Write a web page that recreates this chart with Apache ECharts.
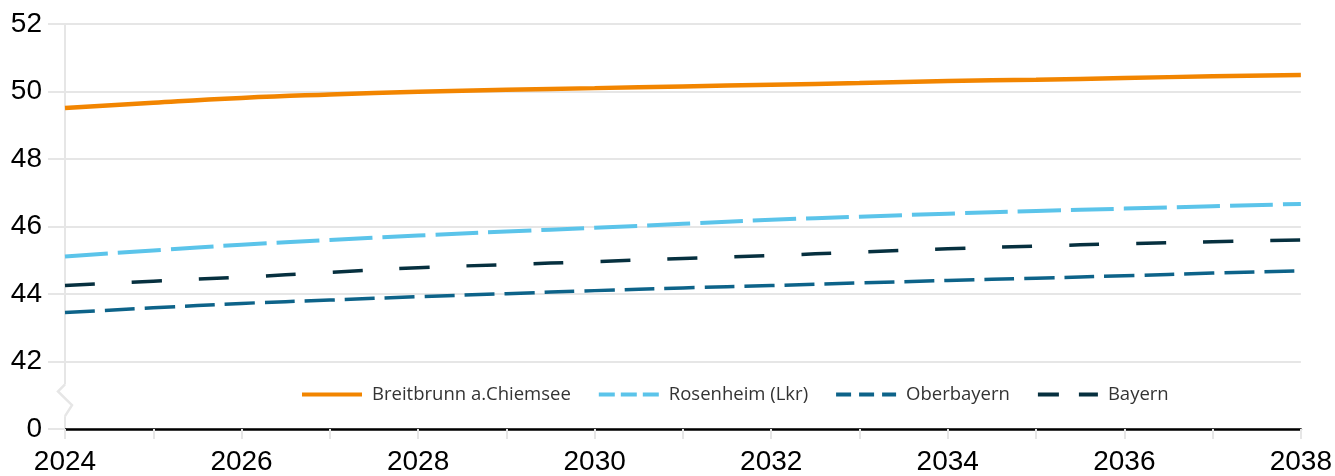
<!DOCTYPE html>
<html>
<head>
<meta charset="utf-8">
<style>
  html, body { margin: 0; padding: 0; background: #fff; }
  #chart { width: 1335px; height: 476px; }
</style>
<script src="https://cdn.jsdelivr.net/npm/echarts@6/dist/echarts.min.js"></script>
</head>
<body>
<div id="chart"></div>
<script>
const years = [2024, 2025, 2026, 2027, 2028, 2029, 2030, 2031, 2032, 2033, 2034, 2035, 2036, 2037, 2038];
const breitbrunn = [49.51, 49.67, 49.81, 49.91, 49.99, 50.05, 50.10, 50.15, 50.20, 50.25, 50.31, 50.35, 50.40, 50.45, 50.49];
const rosenheim  = [45.11, 45.29, 45.46, 45.60, 45.73, 45.85, 45.96, 46.08, 46.20, 46.29, 46.38, 46.46, 46.53, 46.60, 46.67];
const oberbayern = [43.45, 43.59, 43.72, 43.82, 43.92, 44.01, 44.10, 44.18, 44.25, 44.33, 44.40, 44.47, 44.54, 44.62, 44.69];
const bayern     = [44.25, 44.38, 44.50, 44.64, 44.78, 44.87, 44.96, 45.05, 45.14, 45.24, 45.34, 45.42, 45.49, 45.55, 45.60];
const yTicks = [0, 42, 44, 46, 48, 50, 52];   // 0 is drawn at the broken-axis position (40)
const yBreakPos = 40;

const names = ['Breitbrunn a.Chiemsee', 'Rosenheim (Lkr)', 'Oberbayern', 'Bayern'];
const colors = ['#f28500', '#5bc4ea', '#0d6389', '#06303f'];

function pair(arr) { return years.map((y, i) => [y, arr[i]]); }

const chart = echarts.init(document.getElementById('chart'), null, { renderer: 'canvas' });
const axisFont = 'Liberation Sans, Arial, sans-serif';
const hiddenSym = { opacity: 0, borderWidth: 0 };

const option = {
  animation: false,
  backgroundColor: '#ffffff',
  grid: { left: 65, right: 34, top: 24, bottom: 46, containLabel: false },
  legend: {
    left: 295, top: 380,
    itemWidth: 60, itemHeight: 20, itemGap: 26,
    itemStyle: hiddenSym,
    textStyle: { fontFamily: 'Open Sans, Liberation Sans, sans-serif', fontSize: 18.5, color: '#333', padding: [0, 0, 0, 5] },
    data: [
      { name: names[0], lineStyle: { type: 'solid', width: 4 }, itemStyle: hiddenSym },
      { name: names[1], lineStyle: { type: [16, 6], width: 4 }, itemStyle: hiddenSym },
      { name: names[2], lineStyle: { type: [15, 8], width: 4 }, itemStyle: hiddenSym },
      { name: names[3], lineStyle: { type: [21, 20], width: 4 }, itemStyle: hiddenSym }
    ]
  },
  xAxis: {
    type: 'value', min: 2024, max: 2038, interval: 1,
    axisLine: { show: true, onZero: false, lineStyle: { color: '#000', width: 2.5 } },
    axisTick: { show: true, length: 10, lineStyle: { color: '#e6e6e6', width: 2 } },
    splitLine: { show: false },
    axisLabel: {
      fontFamily: axisFont, fontSize: 28, color: '#000', margin: 19,
      formatter: v => (v % 2 === 0 ? String(v) : '')
    }
  },
  yAxis: {
    type: 'value', min: 40, max: 52, interval: 2,
    axisLine: { show: true, lineStyle: { color: '#e6e6e6', width: 2 } },
    axisTick: { show: true, length: 17, lineStyle: { color: '#e6e6e6', width: 2 } },
    splitLine: { show: true, lineStyle: { color: '#e6e6e6', width: 2 } },
    axisLabel: {
      fontFamily: axisFont, fontSize: 28, color: '#000', margin: 23,
      formatter: v => (v === yBreakPos ? String(yTicks[0]) : (yTicks.indexOf(v) >= 0 ? String(v) : ''))
    }
  },
  series: [
    { name: names[0], type: 'line', data: pair(breitbrunn), symbol: 'none', showSymbol: false, smooth: true,
      lineStyle: { color: colors[0], width: 4.5, type: 'solid' }, itemStyle: { color: colors[0] }, z: 5 },
    { name: names[1], type: 'line', data: pair(rosenheim), symbol: 'none', showSymbol: false, smooth: true,
      lineStyle: { color: colors[1], width: 4, type: [43, 10] }, itemStyle: { color: colors[1] }, z: 4 },
    { name: names[2], type: 'line', data: pair(oberbayern), symbol: 'none', showSymbol: false, smooth: true,
      lineStyle: { color: colors[2], width: 3.5, type: [30, 10] }, itemStyle: { color: colors[2] }, z: 3 },
    { name: names[3], type: 'line', data: pair(bayern), symbol: 'none', showSymbol: false, smooth: true,
      lineStyle: { color: colors[3], width: 3.5, type: [30, 37] }, itemStyle: { color: colors[3] }, z: 3 }
  ]
};
chart.setOption(option);

// axis-break zigzag on the y axis between 0 and 42
const ax = chart.convertToPixel({ gridIndex: 0 }, [2024, 41.32]);
const bx = chart.convertToPixel({ gridIndex: 0 }, [2024, 40.38]);
const x0 = ax[0], yTop = ax[1], yBot = bx[1];
const h = yBot - yTop;
chart.setOption({
  graphic: [
    { type: 'rect', shape: { x: x0 - 2, y: yTop, width: 4, height: h }, style: { fill: '#fff' }, z: 100 },
    { type: 'polyline', z: 101,
      shape: { points: [[x0, yTop], [x0 - 7, yTop + h * 0.22], [x0 + 7, yTop + h * 0.65], [x0, yBot]] },
      style: { stroke: '#e6e6e6', lineWidth: 2.5, fill: null } }
  ]
});
</script>
</body>
</html>
